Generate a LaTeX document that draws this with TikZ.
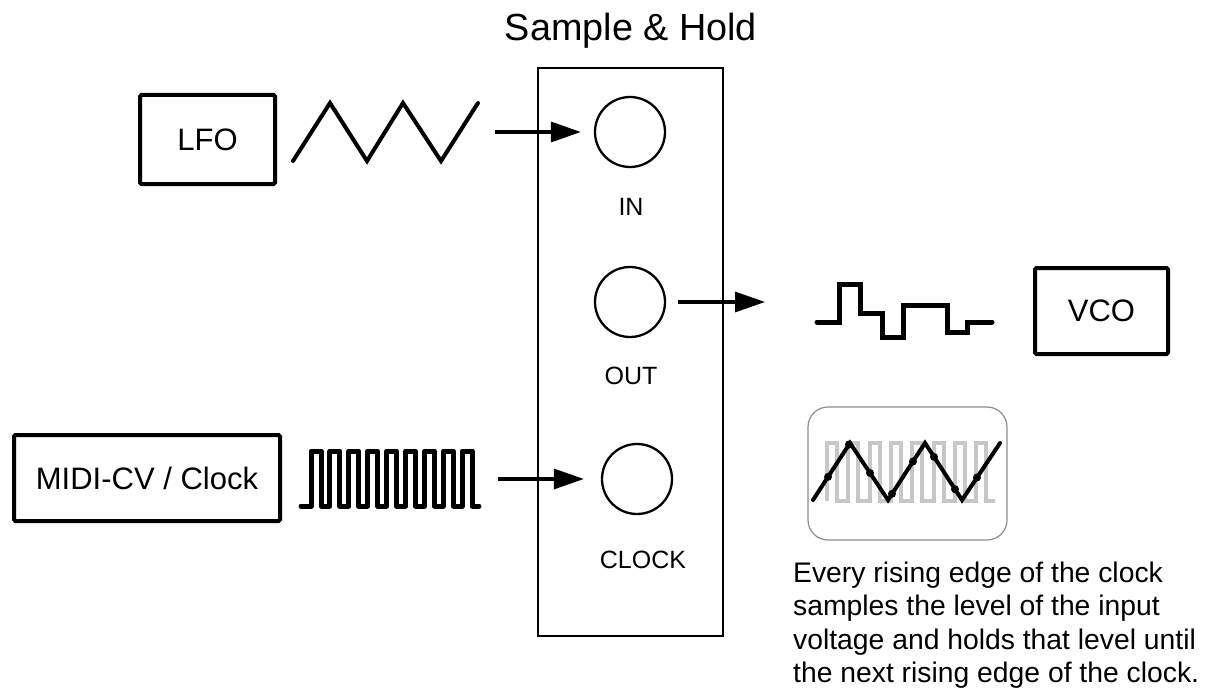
\documentclass[tikz,border=0pt]{standalone}
\usepackage{fontspec}
\setmainfont{Liberation Sans}
\usetikzlibrary{arrows.meta}
\begin{document}
\begin{tikzpicture}[x=1pt,y=-1pt,
  modbox/.style={draw,line width=4pt,rounded corners=1.5pt,inner sep=0pt,font=\fontsize{31}{34}\selectfont},
  panel/.style={draw,line width=2.7pt,inner sep=0pt},
  jack/.style={draw,circle,line width=2.3pt,minimum size=70pt,inner sep=0pt},
  jacklabel/.style={anchor=base,font=\fontsize{25}{28}\selectfont},
  arr/.style={line width=3.3pt,-{Triangle[length=30pt,width=20pt]}},
  wave/.style={line width=4pt,line cap=round,line join=miter},
  sqwave/.style={line width=5pt,line cap=round,line join=round},
  greywave/.style={line width=4pt,draw=black!22},
  para/.style={anchor=base west,inner sep=0pt,font=\fontsize{28.3}{33}\selectfont}
]
\useasboundingbox (0,0) rectangle (1210,690);

% title
\node[anchor=base,inner sep=0pt,font=\fontsize{37.8}{40}\selectfont] (title) at (631,41) {Sample \& Hold};

% panel
\node[panel,minimum width=185pt,minimum height=568pt] (sh) at (630.5,352) {};

% jacks
\node[jack] (in) at (630,132) {};
\node[jack] (out) at (630,302) {};
\node[jack] (clk) at (637,479) {};
\node[jacklabel] (inlbl) at (631,215) {IN};
\node[jacklabel] (outlbl) at (631,384) {OUT};
\node[jacklabel] (clklbl) at (643,568) {CLOCK};

% modules
\node[modbox,minimum width=135pt,minimum height=89pt] (lfo) at (207.5,139.5) {LFO};
\node[modbox,minimum width=266pt,minimum height=86pt] (midi) at (147,478) {MIDI-CV / Clock};
\node[modbox,minimum width=133pt,minimum height=86pt] (vco) at (1101.5,311) {VCO};

% LFO triangle wave
\draw[wave] (293,161) -- (330,103) -- (367,161) -- (403,103) -- (441,161) -- (478,103);

% clock pulses
\draw[sqwave] (301,506)
  \foreach \i in {0,...,8}{ -- ({311+18.9*\i},506) -- ({311+18.9*\i},451) -- ({321+18.9*\i},451) -- ({321+18.9*\i},506) }
  -- (479,506);

% stepped output
\draw[sqwave,line join=miter,line cap=round] (817,322) -- (839,322) -- (839,284) -- (860,284) -- (860,313) -- (882,313) -- (882,337) -- (903,337) -- (903,305) -- (947,305) -- (947,332) -- (967,332) -- (967,322) -- (992,322);

% arrows
\coordinate (lfoout) at (495,132);
\coordinate (clkout) at (498,479);
\coordinate (vcoin) at (765,302);
\draw[arr] (lfoout) -- ([xshift=-13pt]in.west);
\draw[arr] (clkout) -- ([xshift=-17pt]clk.west);
\draw[arr] ([xshift=12pt]out.east) -- (vcoin);

% inset
\node[draw=black!45,line width=1.2pt,rounded corners=20pt,minimum width=199pt,minimum height=133pt,inner sep=0pt] (inset) at (907.5,473.5) {};
\draw[greywave] (827,501)
  \foreach \i in {0,...,7}{ -- ({827+21.3*\i},501) -- ({827+21.3*\i},443) -- ({837+21.3*\i},443) -- ({837+21.3*\i},501) }
  -- (995,501);
\draw[wave] (813,500) -- (850,443) -- (888,500) -- (925,443) -- (962,500) -- (1000,443);
\foreach \x/\y in {828/476.9,849/444.5,870/473,892/493.8,913/461.5,934/456.9,955/489.2,977/477.5}
  \fill (\x,\y) circle (4pt);

% description
\node[para] (p1) at (793,582) {Every rising edge of the clock};
\node[para] (p2) at (793,615.5) {samples the level of the input};
\node[para] (p3) at (793,649) {voltage and holds that level until};
\node[para] (p4) at (793,682.5) {the next rising edge of the clock.};
\end{tikzpicture}
\end{document}
